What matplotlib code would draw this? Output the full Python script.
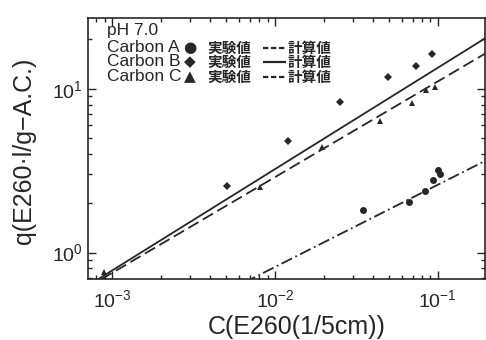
import matplotlib
matplotlib.use("Agg")
import matplotlib.pyplot as plt
from matplotlib.lines import Line2D

plt.rcParams['font.family'] = ['Liberation Sans', 'Noto Sans CJK JP', 'DejaVu Sans']
plt.rcParams['mathtext.fontset'] = 'custom'
plt.rcParams['mathtext.rm'] = 'Liberation Sans'
plt.rcParams['mathtext.it'] = 'Liberation Sans:italic'
plt.rcParams['mathtext.bf'] = 'Liberation Sans:bold'

INK = '#262626'

# Carbon A (circles) experimental
a_x = [0.0347, 0.0664, 0.0832, 0.0931, 0.100, 0.1028]
a_y = [1.82, 2.04, 2.38, 2.77, 3.19, 3.01]
# Carbon B (diamonds) experimental
b_x = [0.00508, 0.0120, 0.0251, 0.0493, 0.0733, 0.0918]
b_y = [2.55, 4.77, 8.34, 11.8, 13.8, 16.3]
# Carbon C (triangles) experimental
c_x = [0.00089, 0.00809, 0.0194, 0.0441, 0.0692, 0.0843, 0.096]
c_y = [0.757, 2.51, 4.39, 6.31, 8.23, 9.86, 10.3]

# calculated lines (end points)
calc_a_x = [0.005, 0.2]
calc_a_y = [0.577, 3.67]
calc_b_x = [0.0007, 0.2]
calc_b_y = [0.624, 20.6]
calc_c_x = [0.0007, 0.2]
calc_c_y = [0.611, 16.6]

# legend block texts
header = 'pH 7.0'
names = ['Carbon A', 'Carbon B', 'Carbon C']
symbols = ['●', '◆', '▲']
exp_label = '実験値'
calc_label = '計算値'
sample_styles = ['dashed', 'solid', 'dashed']

xlim = (7.1e-4, 0.195)
ylim = (0.69, 27)

fig = plt.figure(figsize=(4.86, 3.40), dpi=100)
ax = fig.add_axes([88/486, 1-279/340, (485-88)/486, (279-18)/340])
ax.set_xscale('log')
ax.set_yscale('log')

ax.plot(calc_b_x, calc_b_y, color=INK, lw=1.3, solid_capstyle='butt')
ax.plot(calc_c_x, calc_c_y, color=INK, lw=1.3, dashes=(6.5, 2.8))
ax.plot(calc_a_x, calc_a_y, color=INK, lw=1.3, dashes=(6.5, 2.0, 1.0, 2.0))

ax.plot(a_x, a_y, 'o', color=INK, ms=5, mew=0, linestyle='none')
ax.plot(b_x, b_y, 'D', color=INK, ms=4.3, mew=0, linestyle='none')
ax.plot(c_x, c_y, '^', color=INK, ms=4, mew=0, linestyle='none')

ax.set_xlim(*xlim)
ax.set_ylim(*ylim)

for s in ax.spines.values():
    s.set_linewidth(1.2)
    s.set_color(INK)
ax.tick_params(which='both', direction='in', top=True, right=True,
               color=INK, labelcolor=INK, width=1.0)
ax.tick_params(which='major', length=6, labelsize=14)
ax.tick_params(which='minor', length=3)
ax.tick_params(axis='x', which='major', pad=7)
ax.tick_params(axis='y', which='major', pad=4)

ax.set_xlabel('C(E260(1/5cm))', fontsize=18, color=INK)
ax.set_ylabel('q(E260·l/g−A.C.)', fontsize=18, color=INK)
ax.xaxis.set_label_coords(0.526, -0.137)
ax.yaxis.set_label_coords(-0.13, 0.49)

# annotation block (figure pixel coordinates)
def px(x, y):
    return x/486, 1 - y/340

fs = 12.5
fig.text(*px(107, 31), header, fontsize=fs, color=INK, va='center', ha='left')
for name, sym, style, yy in zip(names, symbols, sample_styles, [47.5, 62, 76.5]):
    fig.text(*px(107, yy), name, fontsize=fs, color=INK, va='center', ha='left')
    fig.text(*px(190, yy), sym, fontsize=fs - 1.5, color=INK, va='center',
             ha='center', family=['DejaVu Sans'])
    fig.text(*px(207, yy), exp_label, fontsize=10.5, color=INK, va='center',
             ha='left', family=['Noto Sans CJK JP'], fontweight='bold')
    x0, y0 = px(263, yy)
    x1, _ = px(286, yy)
    ln = Line2D([x0, x1], [y0, y0], transform=fig.transFigure, color=INK,
                lw=1.6, solid_capstyle='butt')
    if style == 'dashed':
        ln.set_dashes((2.4, 1.2))
    fig.add_artist(ln)
    fig.text(*px(288, yy), calc_label, fontsize=10.5, color=INK, va='center',
             ha='left', family=['Noto Sans CJK JP'], fontweight='bold')

fig.savefig('out.png', dpi=100)
